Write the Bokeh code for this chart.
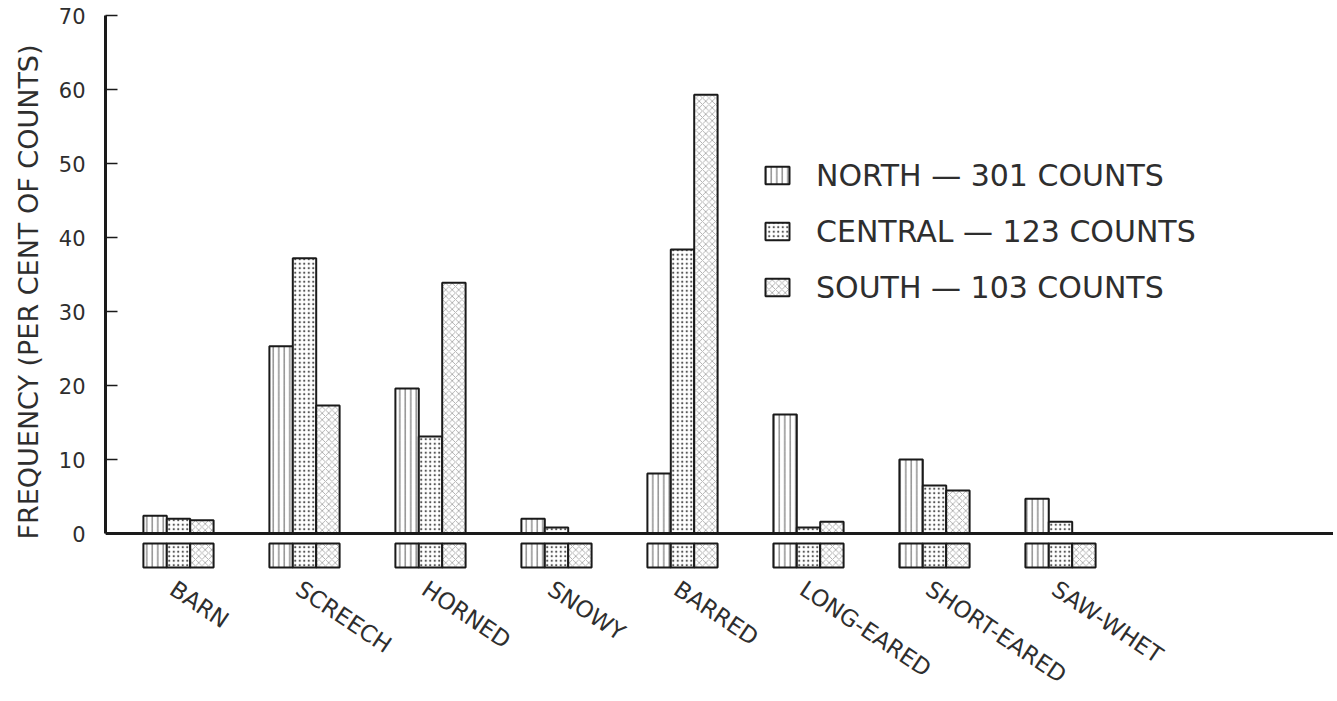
from bokeh.plotting import figure
from bokeh.models import Range1d, LinearAxis, FixedTicker, Span, Legend, LegendItem
from bokeh.layouts import column
from bokeh.embed import file_html
from bokeh.resources import INLINE
from bokeh.core.properties import value

# ---------------- data ----------------
categories = ["BARN", "SCREECH", "HORNED", "SNOWY", "BARRED",
              "LONG-EARED", "SHORT-EARED", "SAW-WHET"]
north = [2.4, 25.3, 19.6, 2.0, 8.1, 16.1, 10.0, 4.7]
central = [2.0, 37.2, 13.1, 0.8, 38.4, 0.8, 6.5, 1.6]
south = [1.8, 17.3, 33.9, 0.0, 59.3, 1.6, 5.8, 0.0]
series_labels = ["NORTH — 301 COUNTS", "CENTRAL — 123 COUNTS", "SOUTH — 103 COUNTS"]
y_ticks = [0, 10, 20, 30, 40, 50, 60, 70]
y_label = "FREQUENCY (PER CENT OF COUNTS)"

# ---------------- styling / layout ----------------
FONT = "DejaVu Sans"
INK = "#1a1a1a"
TEXT = "#2e2e2e"

PX_PER_GROUP = 126
FRAME_W = 1228
LEFT = 105
x_start = -73 / PX_PER_GROUP
xr = Range1d(x_start, x_start + FRAME_W / PX_PER_GROUP)
BW = 23.4 / PX_PER_GROUP

PX_PER_UNIT = 7.4
y_lo, y_hi = -5.0, 70.3
FRAME_H = round((y_hi - y_lo) * PX_PER_UNIT)
TOP_BORDER = 13
TOTAL_H = 693
BOTTOM_H = TOTAL_H - TOP_BORDER - FRAME_H

styles = [
    dict(hatch_pattern="vertical_line", hatch_scale=5.5, hatch_weight=0.9, hatch_color="#444444"),
    dict(hatch_pattern="dot", hatch_scale=4.5, hatch_weight=1.0, hatch_color="#555555"),
    dict(hatch_pattern="diagonal_cross", hatch_scale=6.5, hatch_weight=0.6, hatch_color="#808080"),
]
series = [north, central, south]
offsets = [-1, 0, 1]

top = figure(frame_width=FRAME_W, frame_height=FRAME_H, x_range=xr,
             y_range=Range1d(y_lo, y_hi), x_axis_type=None, y_axis_type=None,
             output_backend="svg", toolbar_location=None,
             min_border_left=LEFT, min_border_right=0, min_border_top=TOP_BORDER,
             min_border_bottom=0, outline_line_color=None)

yaxis = LinearAxis(bounds=(0, 70), ticker=FixedTicker(ticks=y_ticks), axis_label=y_label,
                   axis_line_width=3, axis_line_color=INK,
                   major_tick_in=12, major_tick_out=0, major_tick_line_width=1.5,
                   major_tick_line_color=INK, minor_tick_line_color=None,
                   major_label_text_font=FONT, major_label_text_font_size="21px",
                   major_label_text_color=TEXT, major_label_standoff=20,
                   axis_label_text_font=FONT, axis_label_text_font_size="27px",
                   axis_label_text_font_style="normal", axis_label_text_color=TEXT,
                   axis_label_standoff=12)
top.add_layout(yaxis, "left")

idx = list(range(len(categories)))
bars = []
for vals, off, st in zip(series, offsets, styles):
    xs = [i + off * BW for i in idx]
    r = top.vbar(x=xs, top=vals, bottom=0, width=BW, fill_color="white",
                 line_color=INK, line_width=2, **st)
    bars.append(r)

top.add_layout(Span(location=0, dimension="width", line_color=INK, line_width=3))

# key boxes under each group (same hatching as the bars)
BOX_TOP, BOX_BOT = -10 / PX_PER_UNIT, -34 / PX_PER_UNIT
for off, st in zip(offsets, styles):
    xs = [i + off * BW for i in idx]
    top.quad(left=[x - BW / 2 for x in xs], right=[x + BW / 2 for x in xs],
             top=BOX_TOP, bottom=BOX_BOT, fill_color="white",
             line_color=INK, line_width=2, **st)

legend = Legend(items=[LegendItem(label=lab, renderers=[r]) for lab, r in zip(series_labels, bars)],
                location=(657, 265), orientation="vertical",
                glyph_width=30, glyph_height=22, label_standoff=24,
                label_text_font=FONT, label_text_font_size="30px", label_text_color=TEXT,
                label_height=36, spacing=20, padding=0, margin=0,
                border_line_alpha=0, background_fill_alpha=0)
top.add_layout(legend)

# ---------------- lower strip: names ----------------
bottom = figure(frame_width=FRAME_W, frame_height=BOTTOM_H, x_range=xr,
                y_range=Range1d(-BOTTOM_H, 0), x_axis_type=None, y_axis_type=None,
                output_backend="svg", toolbar_location=None,
                min_border_left=LEFT, min_border_right=0, min_border_top=0,
                min_border_bottom=0, outline_line_color=None)

bottom.text(x=[i - 6 / PX_PER_GROUP for i in idx], y=-16, text=categories,
            angle=-0.59, text_align="left", text_baseline="middle",
            text_font=value(FONT), text_font_size="23px", text_color=TEXT)

layout = column(top, bottom, spacing=0)
open("out.html", "w").write(file_html(layout, INLINE))
